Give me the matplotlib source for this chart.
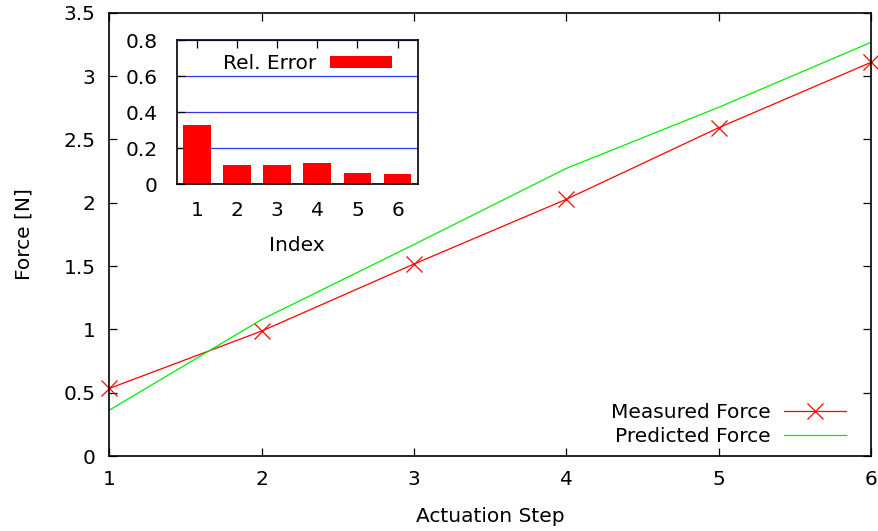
import matplotlib
matplotlib.use("Agg")
import matplotlib.pyplot as plt

steps = [1, 2, 3, 4, 5, 6]
measured = [0.534, 0.987, 1.516, 2.027, 2.592, 3.108]
predicted = [0.363, 1.078, 1.67, 2.271, 2.753, 3.266]
index = [1, 2, 3, 4, 5, 6]
rel_error = [0.328, 0.106, 0.106, 0.118, 0.061, 0.054]

plt.rcParams['font.family'] = ['DejaVu Sans']
plt.rcParams['font.size'] = 14.5

W, H = 879, 531
fig = plt.figure(figsize=(W / 100, H / 100), dpi=100)

def rect(l, t, r, b):
    return [l / W, 1 - b / H, (r - l) / W, (b - t) / H]

def fx(px):
    return px / W

def fy(py):
    return 1 - py / H

ax = fig.add_axes(rect(109.5, 12.7, 871, 456))
ax.plot(steps, measured, color='#ff0000', lw=0.9, marker='x', ms=12, mew=0.9,
        label='Measured Force', clip_on=False)
ax.plot(steps, predicted, color='#00ee00', lw=0.9, label='Predicted Force')
ax.set_xlim(1, 6)
ax.set_ylim(0, 3.5)
ax.set_xticks(steps)
ax.set_yticks([0, 0.5, 1, 1.5, 2, 2.5, 3, 3.5])
ax.set_yticklabels(['0', '0.5', '1', '1.5', '2', '2.5', '3', '3.5'])
ax.tick_params(direction='in', top=True, right=True, length=6, width=0.9, pad=10)
for s in ax.spines.values():
    s.set_linewidth(1.2)
ax.set_xlabel('Actuation Step', labelpad=13)
ax.set_ylabel('Force [N]', labelpad=22)
leg = ax.legend(loc='upper right', frameon=False, markerfirst=False,
                handlelength=3.1, handletextpad=0.65, borderaxespad=0,
                borderpad=0, labelspacing=0.25,
                bbox_to_anchor=(fx(846), fy(403)),
                bbox_transform=fig.transFigure)
for t in leg.get_texts():
    t.set_ha('right')

ins = fig.add_axes(rect(176.7, 40, 417.7, 184))
ins.set_axisbelow(True)
ins.grid(axis='y', color='#3333ff', lw=0.9)
ins.bar(index, rel_error, width=0.69, color='#ff0000', label='Rel. Error')
ins.set_xlim(0.5, 6.5)
ins.set_ylim(0, 0.8)
ins.set_xticks(index)
ins.set_yticks([0, 0.2, 0.4, 0.6, 0.8])
ins.set_yticklabels(['0', '0.2', '0.4', '0.6', '0.8'])
ins.tick_params(axis='x', direction='in', top=True, length=6, width=0.9, pad=12)
ins.tick_params(axis='y', direction='in', length=6, width=0.9, pad=14)
for s in ins.spines.values():
    s.set_linewidth(1.2)
ins.set_xlabel('Index', labelpad=12)
l2 = ins.legend(loc='upper right', frameon=False, markerfirst=False,
                handlelength=3.1, handleheight=0.6, handletextpad=0.65,
                borderaxespad=0, borderpad=0,
                bbox_to_anchor=(fx(392), fy(54)),
                bbox_transform=fig.transFigure)

fig.savefig('out.png', dpi=100)
